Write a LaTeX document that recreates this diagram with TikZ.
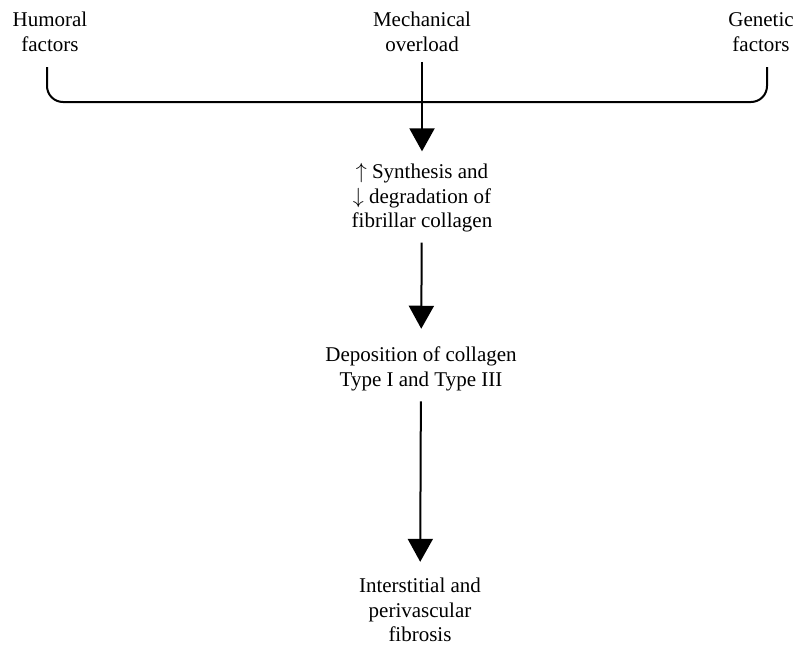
\documentclass[tikz,border=0pt]{standalone}
\usepackage{fontspec}
\setmainfont{Liberation Serif}
\usetikzlibrary{arrows.meta}
\tikzset{
  lbl/.style={align=center,inner sep=2pt,font=\fontsize{10.5}{12.2}\selectfont},
  flow/.style={-{Triangle[width=12.5pt,length=11.5pt]},line width=1pt},
  brc/.style={line width=1pt,rounded corners=8pt},
}
\begin{document}
\begin{tikzpicture}[x=0.5pt,y=-0.5pt]
  \useasboundingbox (0,0) rectangle (796,648);
  % three causes on top
  \node[lbl] (humoral) at (50,32) {Humoral\\factors};
  \node[lbl] (mech) at (422,32) {Mechanical\\overload};
  \node[lbl] (genetic) at (761,32) {Genetic\\factors};
  % brace joining them
  \coordinate (bl) at (47,67);
  \coordinate (br) at (767,67);
  \draw[brc] (bl) -- (47,102) -- (767,102) -- (br);
  % chain of events
  \node[lbl] (synth) at (422,198) {$\uparrow$ Synthesis and\\$\downarrow$ degradation of\\fibrillar collagen};
  \node[lbl] (depo) at (421,369) {Deposition of collagen\\Type I and Type III};
  \node[lbl] (fibro) at (420,610) {Interstitial and\\perivascular\\fibrosis};
  \draw[flow,shorten <=3pt,shorten >=4pt] (mech) -- (synth);
  \draw[flow,shorten <=3pt,shorten >=7pt] (synth) -- (depo);
  \draw[flow,shorten <=3pt,shorten >=6pt] (depo) -- (fibro);
\end{tikzpicture}
\end{document}
